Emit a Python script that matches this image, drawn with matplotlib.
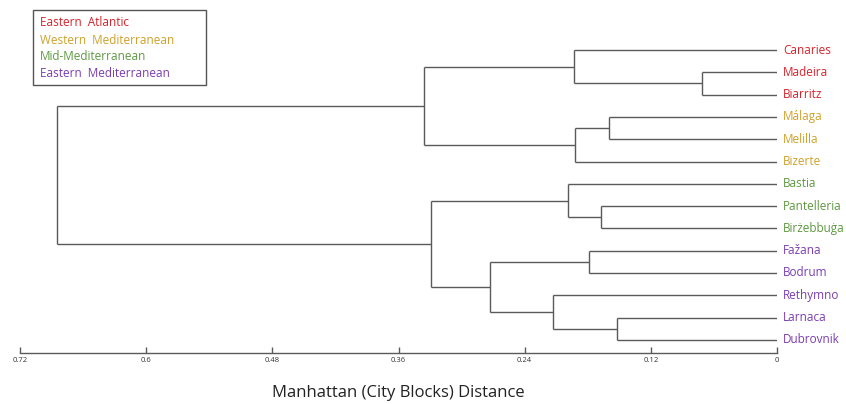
import matplotlib
matplotlib.use("Agg")
import matplotlib.pyplot as plt

plt.rcParams['font.family'] = ['Open Sans', 'DejaVu Sans']

# Leaves, top to bottom, with their region group
leaves = ["Canaries", "Madeira", "Biarritz", "Málaga", "Melilla", "Bizerte",
          "Bastia", "Pantelleria", "Birżebbuġa", "Fažana", "Bodrum",
          "Rethymno", "Larnaca", "Dubrovnik"]
leaf_group = [0, 0, 0, 1, 1, 1, 2, 2, 2, 3, 3, 3, 3, 3]

groups = ["Eastern  Atlantic", "Western  Mediterranean", "Mid-Mediterranean",
          "Eastern  Mediterranean"]
group_colors = ["#d7222b", "#cfa12a", "#5e9841", "#7a3db0"]

# Agglomeration steps: cluster ids < 14 are leaves, each merge creates id 14, 15, ...
merge_left = [1, 12, 3, 7, 9, 16, 0, 6, 11, 18, 21, 20, 25]
merge_right = [2, 13, 4, 8, 10, 5, 14, 17, 15, 22, 23, 19, 24]
merge_height = [0.071, 0.152, 0.160, 0.167, 0.179, 0.192, 0.193, 0.199,
                0.213, 0.273, 0.329, 0.336, 0.685]

ticks = [0.72, 0.6, 0.48, 0.36, 0.24, 0.12, 0]
tick_labels = ["0.72", "0.6", "0.48", "0.36", "0.24", "0.12", "0"]

W, H = 846, 404
fig = plt.figure(figsize=(W / 100, H / 100), dpi=100)

# axis from x=20px to 777px, bottom spine at y=353px
x0, x1 = 20, 777
ybot, ytop = 353, 30
ax = fig.add_axes([x0 / W, (H - ybot) / H, (x1 - x0) / W, (ybot - ytop) / H])
step = 22.3
first = 50
ax.set_ylim((ybot - first) / step, (ytop - first) / step)
ax.set_xlim(0.72, 0)

line_kw = dict(color="#5a5a5a", lw=1.0, solid_capstyle="butt")

pos = {i: (float(i), 0.0) for i in range(len(leaves))}
for k, (a, b, h) in enumerate(zip(merge_left, merge_right, merge_height)):
    ya, ha = pos[a]
    yb, hb = pos[b]
    ax.plot([ha, h], [ya, ya], **line_kw)
    ax.plot([hb, h], [yb, yb], **line_kw)
    ax.plot([h, h], [ya, yb], **line_kw)
    pos[len(leaves) + k] = ((ya + yb) / 2, h)

# leaf labels coloured by region
for i, (name, g) in enumerate(zip(leaves, leaf_group)):
    ax.annotate(name, xy=(0, i), xytext=(4.5, 0), textcoords="offset points",
                ha="left", va="center", fontsize=8.5, color=group_colors[g],
                annotation_clip=False)

for s in ["top", "right", "left"]:
    ax.spines[s].set_visible(False)
ax.spines["bottom"].set_color("#5a5a5a")
ax.spines["bottom"].set_linewidth(1.0)
ax.set_yticks([])
ax.set_xticks(ticks)
ax.set_xticklabels(tick_labels)
ax.tick_params(axis="x", direction="in", length=4, width=1, color="#5a5a5a",
               labelsize=5.5, pad=3, labelcolor="#333333")

fig.text(398 / W, 1 - 393 / H, "Manhattan (City Blocks) Distance",
         ha="center", va="center", fontsize=12, color="#222222")

# group legend box
box = plt.Rectangle((33 / W, 1 - 85 / H), (206 - 33) / W, (85 - 10) / H,
                    transform=fig.transFigure, fill=False, edgecolor="#555555",
                    lw=1.0)
fig.add_artist(box)
legend_y = [22.5, 40, 57, 73.5]
for name, c, yy in zip(groups, group_colors, legend_y):
    fig.text(40 / W, 1 - yy / H, name, ha="left", va="center", fontsize=8.5,
             color=c)

fig.savefig("out.png", dpi=100)
